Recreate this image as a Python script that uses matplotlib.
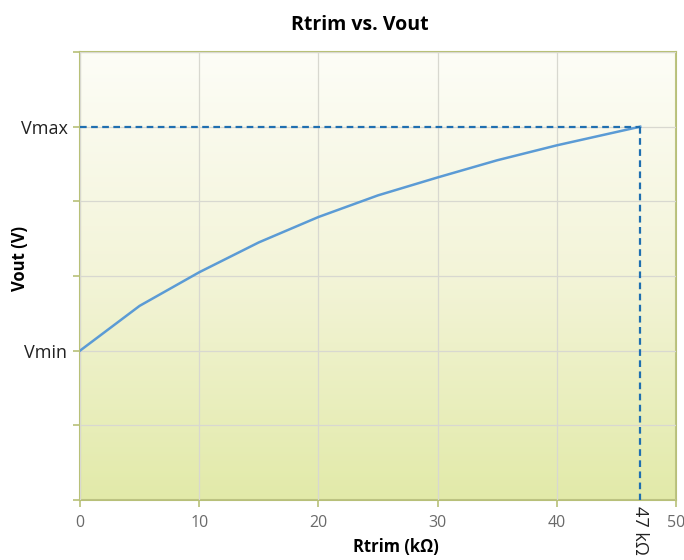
import numpy as np
import matplotlib
matplotlib.use("Agg")
import matplotlib.pyplot as plt
from matplotlib.colors import LinearSegmentedColormap

plt.rcParams['font.family'] = ['Open Sans', 'DejaVu Sans']

# Data (Rtrim in kOhm, Vout in relative units: Vmin=2, Vmax=5)
rtrim = [0, 5, 10, 15, 20, 25, 30, 35, 40, 47]
vout = [2.0, 2.6, 3.05, 3.45, 3.79, 4.08, 4.32, 4.55, 4.75, 5.0]
x_ticks = [0, 10, 20, 30, 40, 50]
y_ticks = [0, 1, 2, 3, 4, 5, 6]
y_tick_labels = ['', '', 'Vmin', '', '', 'Vmax', '']
r_mark = 47
v_max = 5

fig = plt.figure(figsize=(6.84, 5.6), dpi=100)
ax = fig.add_axes([80/684, 60/560, 596/684, 448/560])

# gradient background (white at top, light yellow-green at bottom)
cmap = LinearSegmentedColormap.from_list('bg', ['#fdfdf7', '#f3f4d8', '#e2eaa9'])
grad = np.linspace(0, 1, 256).reshape(-1, 1)
ax.imshow(grad, cmap=cmap, aspect='auto', extent=[0, 50, 0, 6], origin='upper',
          zorder=0, interpolation='bicubic')

ax.set_xlim(0, 50)
ax.set_ylim(0, 6)

ax.set_xticks(x_ticks)
ax.set_yticks(y_ticks)
ax.set_yticklabels(y_tick_labels)
ax.grid(True, color='#d8d8d0', linewidth=0.9, zorder=1)
ax.set_axisbelow(False)

ax.plot(rtrim, vout, color='#5b9bd5', linewidth=1.8, zorder=3)

ax.plot([0, r_mark], [v_max, v_max], color='#1f6fb0', linestyle=(0, (3, 2)),
        linewidth=1.6, zorder=4)
ax.plot([r_mark, r_mark], [v_max, 0], color='#1f6fb0', linestyle=(0, (3, 2)),
        linewidth=1.6, zorder=4)

for s in ax.spines.values():
    s.set_color('#b8c078')
    s.set_linewidth(1.5)

ax.tick_params(axis='x', colors='#b8c078', labelcolor='#6a6a6a', labelsize=11.5,
               length=5, width=1.2, pad=6)
ax.tick_params(axis='y', colors='#b8c078', labelcolor='#222222', labelsize=13,
               length=5, width=1.2, pad=4)

ax.text(r_mark, -0.08, '47 kΩ', rotation=-90, ha='center', va='top',
        fontsize=13, color='#222222', transform=ax.transData)

ax.set_xlabel('Rtrim (kΩ)', fontsize=12, fontweight='bold', labelpad=3)
ax.xaxis.set_label_coords(0.53, -0.085)
ax.set_ylabel('Vout (V)', fontsize=12, fontweight='bold', labelpad=2)
ax.yaxis.set_label_coords(-0.086, 0.54)
ax.set_title('Rtrim vs. Vout', fontsize=14, fontweight='bold', pad=16, x=0.47)

fig.savefig('out.png', dpi=100)
